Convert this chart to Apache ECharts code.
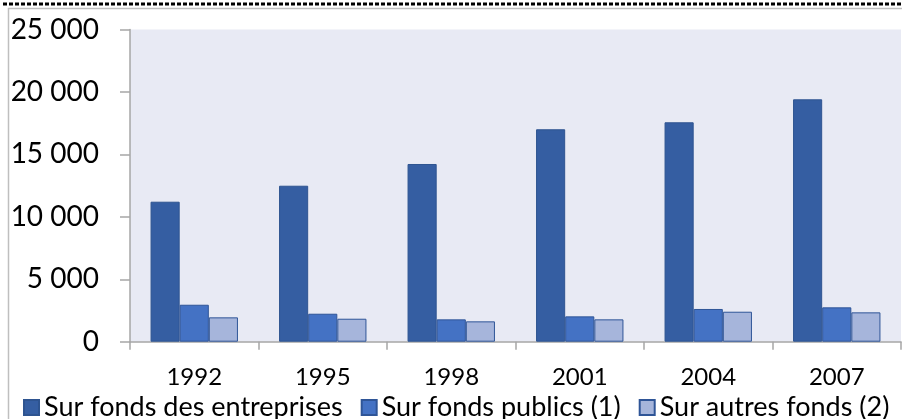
<!DOCTYPE html>
<html>
<head>
<meta charset="utf-8">
<script src="https://cdn.jsdelivr.net/npm/echarts@6/dist/echarts.min.js"></script>
<style>
html,body{margin:0;padding:0;background:#fff;}
#chart{width:902px;height:419px;}
</style>
</head>
<body>
<div id="chart"></div>
<script>
const categories = ['1992', '1995', '1998', '2001', '2004', '2007'];
const seriesNames = ['Sur fonds des entreprises', 'Sur fonds publics (1)', 'Sur autres fonds (2)'];
const entreprises = [11210, 12490, 14230, 17010, 17570, 19410];
const publics = [2960, 2240, 1790, 2030, 2620, 2750];
const autres = [1950, 1840, 1630, 1790, 2400, 2350];
const yTicks = [0, 5000, 10000, 15000, 20000, 25000];

const chart = echarts.init(document.getElementById('chart'));
const fmt = v => String(v).replace(/\B(?=(\d{3})+(?!\d))/g, ' ');
const font = 'Lato, "DejaVu Sans", sans-serif';

function bar(name, data, color, border) {
  return {
    name: name, type: 'bar', data: data,
    barGap: '0%', barCategoryGap: '32%',
    itemStyle: { color: color, borderColor: border, borderWidth: 1 },
    emphasis: { disabled: true }
  };
}

chart.setOption({
  animation: false,
  textStyle: { fontFamily: font },
  graphic: [
    { type: 'line', shape: { x1: 3, y1: 4, x2: 902, y2: 4 }, style: { stroke: '#000', lineWidth: 3, lineDash: [4, 2] } },
    { type: 'line', shape: { x1: 8, y1: 8.5, x2: 902, y2: 8.5 }, style: { stroke: '#BFBFBF', lineWidth: 1.5 } },
    { type: 'line', shape: { x1: 8.5, y1: 8, x2: 8.5, y2: 419 }, style: { stroke: '#BFBFBF', lineWidth: 1.5 } }
  ],
  grid: { left: 130, right: 1, top: 29.5, bottom: 77.3, show: true, backgroundColor: '#E8EAF4', borderWidth: 0 },
  legend: {
    left: 18, top: 389,
    itemWidth: 15, itemHeight: 15, itemGap: 18,
    icon: 'rect',
    textStyle: { fontSize: 27, color: '#000', fontFamily: font },
    data: seriesNames
  },
  xAxis: {
    type: 'category', data: categories,
    axisLine: { show: true, lineStyle: { color: '#A6A6A6', width: 1.5 } },
    axisTick: { show: true, alignWithLabel: false, length: 8, lineStyle: { color: '#A6A6A6', width: 1.5 } },
    axisLabel: { color: '#000', fontSize: 24, margin: 24, fontFamily: font },
    splitLine: { show: false }
  },
  yAxis: {
    type: 'value', min: yTicks[0], max: yTicks[yTicks.length - 1], interval: 5000,
    axisLine: { show: true, lineStyle: { color: '#A6A6A6', width: 1.5 } },
    axisTick: { show: true, length: 10, lineStyle: { color: '#A6A6A6', width: 1.5 } },
    axisLabel: { color: '#000', fontSize: 28, margin: 31, fontFamily: font, formatter: fmt },
    splitLine: { show: false }
  },
  series: [
    bar(seriesNames[0], entreprises, '#355EA2', '#2E5490'),
    bar(seriesNames[1], publics, '#4472C4', '#2F5597'),
    bar(seriesNames[2], autres, '#A6B5DB', '#2F5597')
  ]
});
</script>
</body>
</html>
